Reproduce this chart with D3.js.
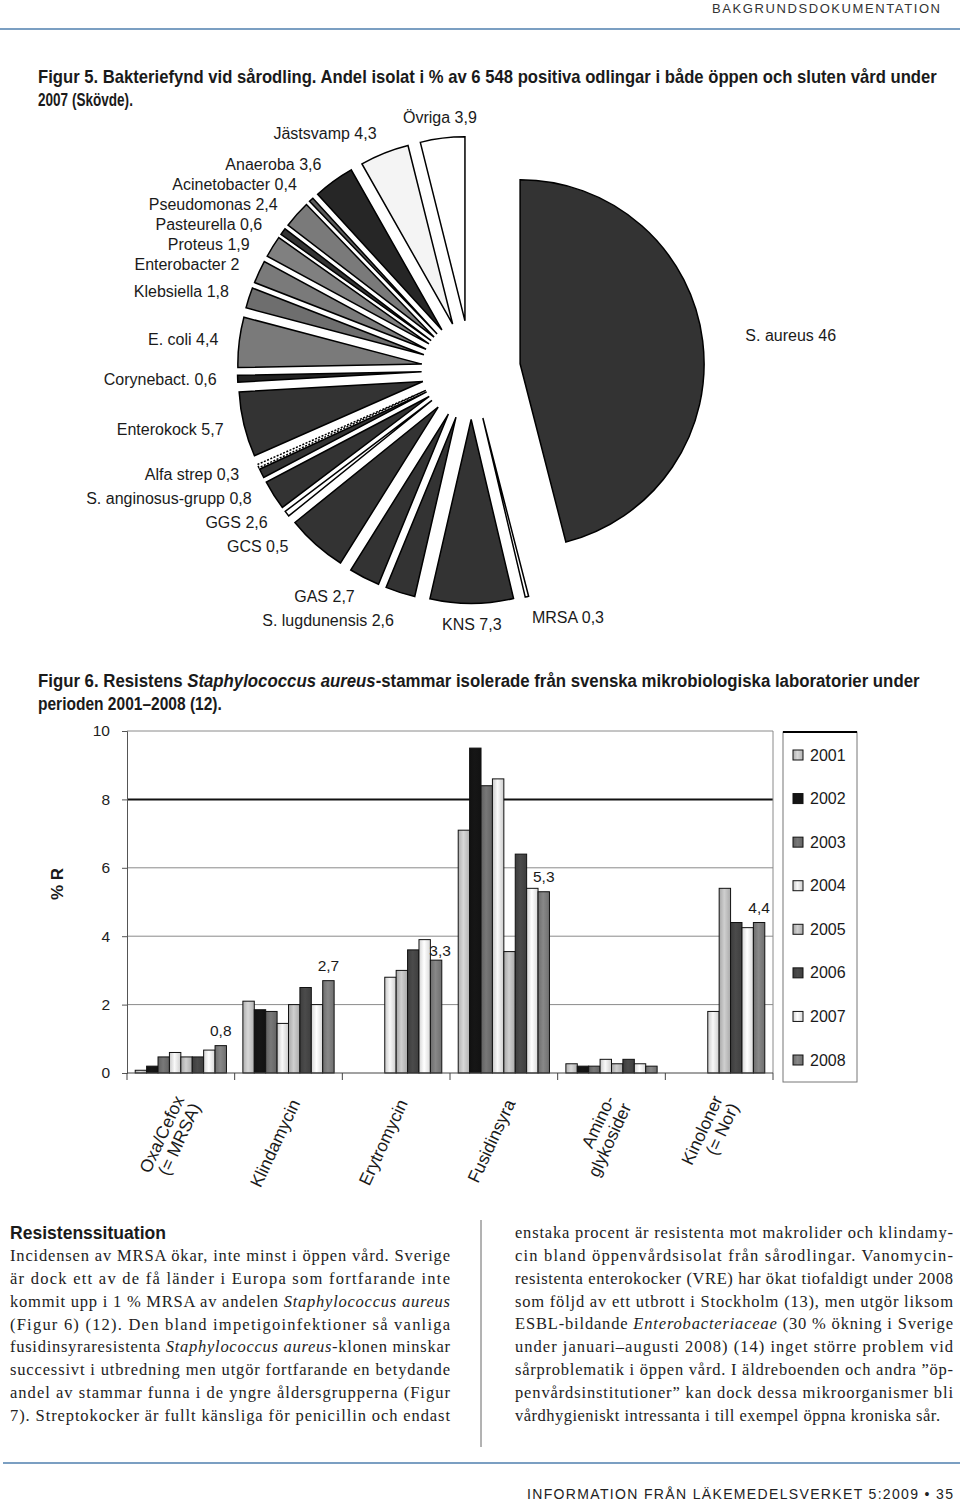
<!DOCTYPE html>
<html><head><meta charset="utf-8">
<script src="https://cdnjs.cloudflare.com/ajax/libs/d3/7.8.5/d3.min.js"></script>
<style>body{margin:0;background:#fff}svg{display:block}</style>
</head><body>
<svg id="c" width="960" height="1501"></svg>
<script>
// ---------- DATA ----------
const pieLabels = ["S. aureus 46","MRSA 0,3","KNS 7,3","S. lugdunensis 2,6","GAS 2,7","","GCS 0,5","GGS 2,6","S. anginosus-grupp 0,8","Alfa strep 0,3","Enterokock 5,7","Corynebact. 0,6","E. coli 4,4","Klebsiella 1,8","Enterobacter 2","Proteus 1,9","Pasteurella 0,6","Pseudomonas 2,4","Acinetobacter 0,4","Anaeroba 3,6","Jästsvamp 4,3","Övriga 3,9"];
const pieValues = [46,0.3,7.3,2.6,2.7,5.3,0.5,2.6,0.8,0.3,5.7,0.6,4.4,1.8,2,1.9,0.6,2.4,0.4,3.6,4.3,3.9];

const categories = [["Oxa/Cefox","(= MRSA)"],["Klindamycin"],["Erytromycin"],["Fusidinsyra"],["Amino-","glykosider"],["Kinoloner","(= Nor)"]];
const years = ["2001","2002","2003","2004","2005","2006","2007","2008"];
const v2001 = [0.08, 2.1, null, 7.1, 0.27, null];
const v2002 = [0.2, 1.85, null, 9.5, 0.2, null];
const v2003 = [0.47, 1.8, null, 8.4, 0.2, null];
const v2004 = [0.6, 1.45, 2.8, 8.6, 0.4, 1.8];
const v2005 = [0.47, 2.0, 3.0, 3.55, 0.27, 5.4];
const v2006 = [0.47, 2.5, 3.6, 6.4, 0.4, 4.4];
const v2007 = [0.67, 2.0, 3.9, 5.4, 0.27, 4.25];
const v2008 = [0.8, 2.7, 3.3, 5.3, 0.2, 4.4];
const series = [v2001,v2002,v2003,v2004,v2005,v2006,v2007,v2008];
const labeledCats = [0,1,2,3,5];
const yTicks = [0,2,4,6,8,10];

// ---------- STYLES ----------
const pieFill = ["#333","#fff","#333","#333","#333","#333","#fff","#333","#333","#fff","#333","#222","#7a7a7a","#6e6e6e","#7a7a7a","#808080","#333","#7a7a7a","#5a5a5a","#262626","#f4f4f4","#fff"];
const yearColor = ["#c6c6c6","#141414","#6e6e6e","#e4e4e4","#bdbdbd","#454545","#f0f0f0","#7c7c7c"];
const SANS = "'Liberation Sans', Arial, Helvetica, sans-serif";
const SERIF = "'Liberation Serif','Times New Roman', serif";

const svg = d3.select('#c');
const defs = svg.append('defs');

function richText(sel, str){
  str.split('*').forEach((s,k)=>{ if(s.length) sel.append('tspan').attr('font-style', k%2 ? 'italic':'normal').text(s); });
}
function line(x,y,str,o){
  const t = svg.append('text').attr('x',x).attr('y',y)
    .attr('font-family',o.font).attr('font-size',o.size).attr('fill',o.fill||'#1a1a1a')
    .attr('font-weight',o.weight||'normal');
  if(o.anchor) t.attr('text-anchor',o.anchor);
  if(o.len){ t.attr('textLength',o.len).attr('lengthAdjust',o.adj||'spacing'); }
  richText(t,str);
  return t;
}
function heading(x,y,str,target,size){
  const t = svg.append('text').attr('x',0).attr('y',0)
    .attr('font-family',SANS).attr('font-size',size||17.5).attr('font-weight','bold').attr('fill','#1a1a1a');
  richText(t,str);
  const w = t.node().getComputedTextLength();
  t.attr('transform',`translate(${x},${y}) scale(${target/w},1)`);
  return t;
}

// ---------- HEADER ----------
line(712,13,"BAKGRUNDSDOKUMENTATION",{font:SANS,size:13,fill:'#333',len:228});
svg.append('line').attr('x1',0).attr('x2',960).attr('y1',29).attr('y2',29).attr('stroke','#4f7fae').attr('stroke-width',1.5);
heading(38,83,"Figur 5. Bakteriefynd vid sårodling. Andel isolat i % av 6 548 positiva odlingar i både öppen och sluten vård under",899);
heading(38,106,"2007 (Skövde).",95);

// ---------- PIE ----------
const cx = 471, cy = 370, R = 184, explode = 49.5, D = 205;
const arcs = d3.pie().sort(null).value(d=>d)(pieValues);
const arcGen = d3.arc().innerRadius(0).outerRadius(R);
arcs.forEach(p=>{ const m=(p.startAngle+p.endAngle)/2; p.mid=m; p.ax=cx+Math.sin(m)*explode; p.ay=cy-Math.cos(m)*explode; });
svg.append('g').selectAll('path').data(arcs).join('path')
  .attr('transform',d=>`translate(${d.ax},${d.ay})`)
  .attr('d',arcGen)
  .attr('fill',(d,i)=>pieFill[i])
  .attr('stroke','#000').attr('stroke-width',1.5).attr('stroke-linejoin','miter')
  .attr('stroke-dasharray',(d,i)=> i===9 ? '2,1.5' : null);

const labs = arcs.map((p,i)=>{
  if(!pieLabels[i]) return null;
  const s=Math.sin(p.mid), c=-Math.cos(p.mid);
  const anchor = s<-0.15?'end':(s>0.15?'start':'middle');
  const dd = s>0.6 ? D+22 : D;
  return {text:pieLabels[i], ax:p.ax, ay:p.ay, s, x:p.ax+dd*s, y:p.ay+dd*c, anchor};
}).filter(Boolean);
const leftL = labs.filter(l=>l.anchor==='end').sort((a,b)=>a.y-b.y);
for(let k=1;k<leftL.length;k++){
  const gap = leftL[k].y > 440 ? 24 : 20;
  if(leftL[k].y < leftL[k-1].y+gap){
    leftL[k].y = leftL[k-1].y+gap;
    if(Math.abs(leftL[k].s)>0.6){ const dy=leftL[k].y-leftL[k].ay; leftL[k].x = leftL[k].ax - Math.sqrt(Math.max(0,D*D-dy*dy)); }
  }
}
svg.append('g').selectAll('text').data(labs).join('text')
  .attr('x',d=>d.x).attr('y',d=>d.y).attr('dy','0.35em')
  .attr('text-anchor',d=>d.anchor)
  .attr('font-family',SANS).attr('font-size',16).attr('fill','#1a1a1a')
  .text(d=>d.text);

// ---------- BAR CHART ----------
heading(38,687,"Figur 6. Resistens *Staphylococcus aureus*-stammar isolerade från svenska mikrobiologiska laboratorier under",882);
heading(38,710,"perioden 2001–2008 (12).",184);

const x0 = d3.scaleBand().domain(d3.range(categories.length)).range([127,773]).padding(0);
const x1 = d3.scaleBand().domain(d3.range(years.length)).range([0,x0.bandwidth()]).paddingInner(0).paddingOuter(0.72);
const y = d3.scaleLinear().domain([0,10]).range([1073,731]);

years.forEach((yr,j)=>{
  const c = d3.color(yearColor[j]);
  const g = defs.append('linearGradient').attr('id','g'+j).attr('x1',0).attr('x2',1).attr('y1',0).attr('y2',0);
  g.append('stop').attr('offset','0%').attr('stop-color',c.darker(0.35));
  g.append('stop').attr('offset','45%').attr('stop-color',c.brighter(0.25));
  g.append('stop').attr('offset','100%').attr('stop-color',c.darker(0.3));
});

const chart = svg.append('g');
chart.selectAll('line.grid').data(yTicks.filter(t=>t>0)).join('line')
  .attr('x1',127).attr('x2',773).attr('y1',d=>y(d)).attr('y2',d=>y(d))
  .attr('stroke',d=>d===8?'#111':'#8a8a8a').attr('stroke-width',d=>d===8?2:1);
chart.append('line').attr('x1',773).attr('x2',773).attr('y1',y(10)).attr('y2',y(0)).attr('stroke','#8a8a8a');

const barData = [];
categories.forEach((c,i)=>series.forEach((s,j)=>{ if(s[i]!=null) barData.push({i,j,v:s[i]}); }));
chart.selectAll('rect.bar').data(barData).join('rect')
  .attr('x',d=>x0(d.i)+x1(d.j)).attr('width',x1.bandwidth())
  .attr('y',d=>y(d.v)).attr('height',d=>y(0)-y(d.v))
  .attr('fill',d=>`url(#g${d.j})`).attr('stroke','#111').attr('stroke-width',1);

chart.selectAll('text.vl').data(labeledCats).join('text')
  .attr('x',i=>x0(i)+x1(7)+x1.bandwidth()/2 + (i===2?4:0)).attr('y',i=>y(v2008[i])-(i===2?4:10))
  .attr('text-anchor','middle').attr('font-family',SANS).attr('font-size',15.5).attr('fill','#1a1a1a')
  .text(i=>d3.format('.1f')(v2008[i]).replace('.',','));

const yAxis = d3.axisLeft(y).tickValues(yTicks).tickSize(5).tickPadding(12).tickFormat(d3.format('d'));
const ya = chart.append('g').attr('transform','translate(127,0)').call(yAxis);
ya.select('.domain').attr('stroke','#555');
ya.selectAll('.tick line').attr('stroke','#555');
ya.selectAll('text').attr('font-family',SANS).attr('font-size',15.5).attr('fill','#222');

chart.append('line').attr('x1',127).attr('x2',773).attr('y1',y(0)).attr('y2',y(0)).attr('stroke','#444').attr('stroke-width',1.2);
chart.selectAll('line.xt').data(d3.range(categories.length+1)).join('line')
  .attr('x1',k=>127+k*x0.step()).attr('x2',k=>127+k*x0.step())
  .attr('y1',y(0)).attr('y2',y(0)+7).attr('stroke','#444');

categories.forEach((lines,i)=>{
  const cxl = x0(i)+x0.bandwidth()/2 + 12;
  const t = chart.append('text').attr('transform',`translate(${cxl},1103) rotate(-65)`)
    .attr('text-anchor','end').attr('font-family',SANS).attr('font-size',17.5).attr('fill','#1a1a1a');
  const n = lines.length;
  lines.forEach((s,k)=>{
    t.append('tspan').attr('x',0).attr('y',(k-(n-1)/2)*18).text(s);
  });
});

svg.append('text').attr('transform','translate(63,884) rotate(-90)').attr('text-anchor','middle')
  .attr('font-family',SANS).attr('font-weight','bold').attr('font-size',17).attr('fill','#1a1a1a').text('% R');

const lg = svg.append('g');
lg.append('rect').attr('x',783).attr('y',732).attr('width',74).attr('height',350).attr('fill','#fff').attr('stroke','#777');
lg.append('line').attr('x1',783).attr('x2',857).attr('y1',732).attr('y2',732).attr('stroke','#000').attr('stroke-width',2);
const ly = d3.scalePoint().domain(years).range([755,1060]);
lg.selectAll('rect.sw').data(years).join('rect')
  .attr('x',793).attr('y',d=>ly(d)-5).attr('width',10).attr('height',10)
  .attr('fill',(d,j)=>`url(#g${j})`).attr('stroke','#111');
lg.selectAll('text').data(years).join('text')
  .attr('x',810).attr('y',d=>ly(d)).attr('dy','0.35em')
  .attr('font-family',SANS).attr('font-size',16).attr('fill','#1a1a1a').text(d=>d);

// ---------- BODY TEXT ----------
heading(10,1239,"Resistenssituation",156);
const leftLines = [
 "Incidensen av MRSA ökar, inte minst i öppen vård. Sverige",
 "är dock ett av de få länder i Europa som fortfarande inte",
 "kommit upp i 1 % MRSA av andelen *Staphylococcus aureus*",
 "(Figur 6) (12). Den bland impetigoinfektioner så vanliga",
 "fusidinsyraresistenta *Staphylococcus aureus*-klonen minskar",
 "successivt i utbredning men utgör fortfarande en betydande",
 "andel av stammar funna i de yngre åldersgrupperna (Figur",
 "7). Streptokocker är fullt känsliga för penicillin och endast"];
const rightLines = [
 "enstaka procent är resistenta mot makrolider och klindamy-",
 "cin bland öppenvårdsisolat från sårodlingar. Vanomycin-",
 "resistenta enterokocker (VRE) har ökat tiofaldigt under 2008",
 "som följd av ett utbrott i Stockholm (13), men utgör liksom",
 "ESBL-bildande *Enterobacteriaceae* (30 % ökning i Sverige",
 "under januari–augusti 2008) (14) inget större problem vid",
 "sårproblematik i öppen vård. I äldreboenden och andra ”öp-",
 "penvårdsinstitutioner” kan dock dessa mikroorganismer bli",
 "vårdhygieniskt intressanta i till exempel öppna kroniska sår."];
leftLines.forEach((s,k)=>line(10,1261+k*22.85,s,{font:SERIF,size:16.5,fill:'#222',len:440}));
rightLines.forEach((s,k)=>line(515,1238+k*22.85,s,{font:SERIF,size:16.5,fill:'#222',len:k===rightLines.length-1?425:438}));
svg.append('line').attr('x1',481).attr('x2',481).attr('y1',1220).attr('y2',1447).attr('stroke','#666').attr('stroke-width',1);

// ---------- FOOTER ----------
svg.append('line').attr('x1',3).attr('x2',960).attr('y1',1463).attr('y2',1463).attr('stroke','#4f7fae').attr('stroke-width',1.5);
line(527,1499,"INFORMATION FRÅN LÄKEMEDELSVERKET 5:2009  •  35",{font:SANS,size:14,fill:'#222',len:426});
</script>
</body></html>
